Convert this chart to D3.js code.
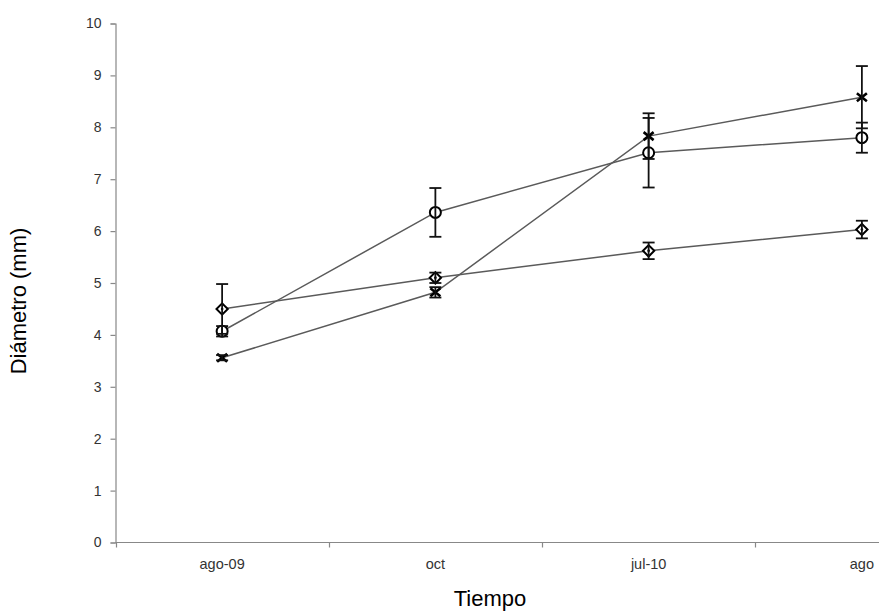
<!DOCTYPE html>
<html>
<head>
<meta charset="utf-8">
<script src="https://cdn.jsdelivr.net/npm/d3@7"></script>
<style>
  body { margin: 0; background: #fff; }
  svg { display: block; font-family: "Liberation Sans", Arial, sans-serif; }
</style>
</head>
<body>
<div id="chart"></div>
<script>
// data
var categories = ["ago-09", "oct", "jul-10", "ago"];
var yTicks = [0, 1, 2, 3, 4, 5, 6, 7, 8, 9, 10];

var diamondVals = [4.5, 5.1, 5.62, 6.03];
var diamondErr  = [0.48, 0.1, 0.16, 0.17];
var circleVals  = [4.07, 6.36, 7.51, 7.8];
var circleErr   = [0.1, 0.47, 0.67, 0.29];
var crossVals   = [3.56, 4.82, 7.83, 8.58];
var crossErr    = [0.05, 0.1, 0.44, 0.6];

var series = [
  {shape: "diamond", vals: diamondVals, err: diamondErr},
  {shape: "circle",  vals: circleVals,  err: circleErr},
  {shape: "cross",   vals: crossVals,   err: crossErr}
];

var W = 879, H = 614;
var svg = d3.select("#chart").append("svg")
  .attr("width", W).attr("height", H);

// the plot runs off the right edge, as in the original
var x = d3.scaleBand().domain(categories).range([115.5, 968.5]);
var y = d3.scaleLinear().domain([0, 10]).range([542.5, 23.5]);

var axisColor = "#888";

// y axis
var yAxis = svg.append("g")
  .attr("transform", "translate(115.5,0)")
  .call(d3.axisLeft(y).tickValues(yTicks).tickSize(5).tickPadding(9));
yAxis.select(".domain").attr("stroke", axisColor).attr("stroke-width", 1.2);
yAxis.selectAll(".tick line").attr("stroke", axisColor).attr("stroke-width", 1.2);
yAxis.selectAll(".tick text").attr("font-size", 14).attr("fill", "#333")
  .attr("font-family", "Liberation Sans, Arial, sans-serif");

// x axis: tick marks at band edges, labels at band centres
var xg = svg.append("g").attr("transform", "translate(0,542.5)");
xg.append("line")
  .attr("x1", 115.5).attr("x2", 968.5)
  .attr("stroke", axisColor).attr("stroke-width", 1.2);
var edges = categories.map(function (c) { return x(c); });
xg.selectAll(".xt").data(edges).enter().append("line")
  .attr("x1", function (d) { return Math.round(d) + 0.5; })
  .attr("x2", function (d) { return Math.round(d) + 0.5; })
  .attr("y1", 0).attr("y2", 5)
  .attr("stroke", axisColor).attr("stroke-width", 1.2);
xg.selectAll(".xl").data(categories).enter().append("text")
  .attr("x", function (d) { return x(d) + x.bandwidth() / 2; })
  .attr("y", 26)
  .attr("text-anchor", "middle")
  .attr("font-size", 14.5).attr("fill", "#333")
  .text(function (d) { return d; });

// axis titles
svg.append("text")
  .attr("x", 490).attr("y", 606)
  .attr("text-anchor", "middle")
  .attr("font-size", 22).attr("fill", "#000")
  .text("Tiempo");
svg.append("text")
  .attr("transform", "translate(26,301) rotate(-90)")
  .attr("text-anchor", "middle")
  .attr("font-size", 22).attr("fill", "#000")
  .text("Diámetro (mm)");

var cx = function (i) { return x(categories[i]) + x.bandwidth() / 2; };

// lines
var line = d3.line()
  .x(function (d, i) { return cx(i); })
  .y(function (d) { return y(d); });

series.forEach(function (s) {
  svg.append("path")
    .datum(s.vals)
    .attr("d", line)
    .attr("fill", "none")
    .attr("stroke", "#5a5a5a")
    .attr("stroke-width", 1.5);
});

// markers
var symDiamond = d3.symbol().type(d3.symbolSquare).size(64);
series.forEach(function (s) {
  var g = svg.append("g");
  s.vals.forEach(function (v, i) {
    var px = cx(i), py = y(v);
    if (s.shape == "diamond") {
      g.append("path")
        .attr("d", symDiamond())
        .attr("transform", "translate(" + px + "," + py + ") rotate(45)")
        .attr("fill", "#fff").attr("stroke", "#000").attr("stroke-width", 2);
      g.append("circle").attr("cx", px).attr("cy", py).attr("r", 1.3).attr("fill", "#000");
    } else if (s.shape == "circle") {
      g.append("circle").attr("cx", px).attr("cy", py).attr("r", 5.5)
        .attr("fill", "#fff").attr("stroke", "#000").attr("stroke-width", 2);
    } else {
      g.append("path")
        .attr("d", "M-5,-4L5,4M-5,4L5,-4")
        .attr("transform", "translate(" + px + "," + py + ")")
        .attr("stroke", "#000").attr("stroke-width", 2.6);
    }
  });
});

// error bars on top of the markers
series.forEach(function (s) {
  var g = svg.append("g").attr("stroke", "#111").attr("stroke-width", 1.8);
  s.vals.forEach(function (v, i) {
    var px = cx(i), top = y(v + s.err[i]), bot = y(v - s.err[i]);
    g.append("line").attr("x1", px).attr("x2", px).attr("y1", top).attr("y2", bot);
    g.append("line").attr("x1", px - 6).attr("x2", px + 6).attr("y1", top).attr("y2", top);
    g.append("line").attr("x1", px - 6).attr("x2", px + 6).attr("y1", bot).attr("y2", bot);
  });
});
</script>
</body>
</html>
